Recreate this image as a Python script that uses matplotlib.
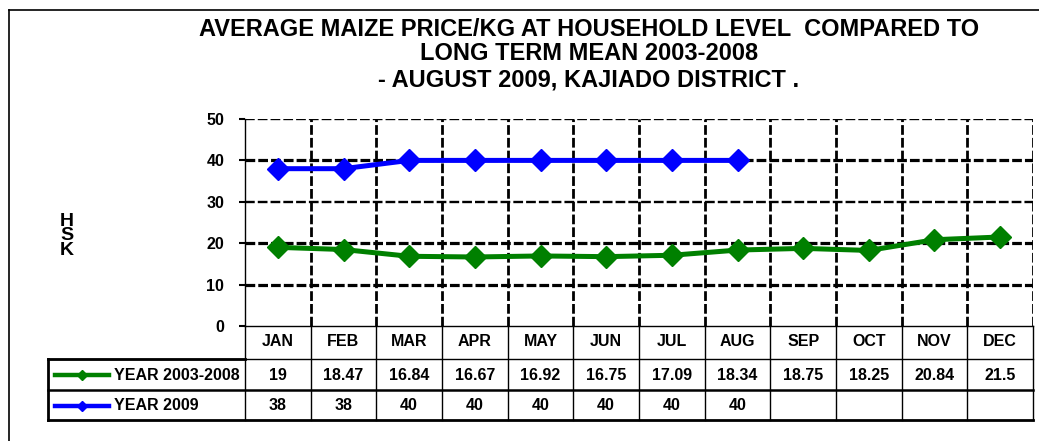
import matplotlib.pyplot as plt
from matplotlib.lines import Line2D
import numpy as np

plt.rcParams['font.family'] = ['Liberation Sans', 'DejaVu Sans']
plt.rcParams['font.weight'] = 'bold'
plt.rcParams['lines.scale_dashes'] = False

months = ['JAN', 'FEB', 'MAR', 'APR', 'MAY', 'JUN',
          'JUL', 'AUG', 'SEP', 'OCT', 'NOV', 'DEC']
mean_0308 = [19, 18.47, 16.84, 16.67, 16.92, 16.75, 17.09, 18.34, 18.75, 18.25, 20.84, 21.5]
year_2009 = [38, 38, 40, 40, 40, 40, 40, 40]
series_names = ['YEAR 2003-2008', 'YEAR 2009']
series_colors = ['#008000', '#0000ff']

W, H = 1039, 441
fig = plt.figure(figsize=(W / 100, H / 100), dpi=100)

def px(x0, y0, x1, y1):
    # pixel box (top-left origin) -> figure fraction rect
    return [x0 / W, 1 - y1 / H, (x1 - x0) / W, (y1 - y0) / H]

ax = fig.add_axes(px(245, 119, 1033, 326))
ax.set_xlim(-0.5, 11.5)
ax.set_ylim(0, 50)

# dashed grid
dash = (0, (7, 2.2))
for yv, lw in zip([10, 20, 30, 40, 50], [2.3, 2.3, 1.7, 2.3, 1.7]):
    ax.axhline(yv, color='black', lw=lw, ls=dash, zorder=1)
for k in range(12):
    ax.axvline(k + 0.5, color='black', lw=2.0, ls=dash, zorder=1)

x = np.arange(len(months))
ax.plot(x, mean_0308, color=series_colors[0], lw=3.6, marker='D', ms=11.5, zorder=3)
ax.plot(x[:len(year_2009)], year_2009, color=series_colors[1], lw=3.6, marker='D', ms=11.5, zorder=3)

for s in ['top', 'right']:
    ax.spines[s].set_visible(False)
ax.spines['left'].set_linewidth(1.0)
ax.spines['bottom'].set_linewidth(1.0)
ax.set_xticks([])
ax.set_yticks([0, 10, 20, 30, 40, 50])
ax.tick_params(axis='y', direction='out', length=4, width=1.5, pad=11, labelsize=11.5)
for t in ax.get_yticklabels():
    t.set_fontweight('bold')

# data table below the plot
tr = ax.get_xaxis_transform()
def f(p):
    return (326 - p) / 207.0

y_head, y_r1, y_r2 = f(342), f(375), f(405.5)
b_head, b_r1, b_r2 = f(359), f(390), f(420)
x_leg = -3.5

def hline(y, x0, x1, lw):
    ax.add_line(Line2D([x0, x1], [y, y], transform=tr, color='black', lw=lw, clip_on=False))

def vline(xv, y0, y1, lw):
    ax.add_line(Line2D([xv, xv], [y0, y1], transform=tr, color='black', lw=lw, clip_on=False))

hline(b_head, x_leg, 11.5, 1.0)
hline(b_head, x_leg, -0.5, 2.0)
hline(b_r1, x_leg, 11.5, 1.8)
hline(b_r2, x_leg, 11.5, 2.0)
vline(x_leg, b_head, b_r2, 2.0)
for k in range(13):
    vline(k - 0.5, 0, b_r2, 1.0)

for i, m in enumerate(months):
    ax.text(i, y_head, m, transform=tr, ha='center', va='center', fontsize=11.5, fontweight='bold')
    ax.text(i, y_r1, '{:g}'.format(mean_0308[i]), transform=tr, ha='center', va='center',
            fontsize=11.5, fontweight='bold')
for i, v in enumerate(year_2009):
    ax.text(i, y_r2, '{:g}'.format(v), transform=tr, ha='center', va='center',
            fontsize=11.5, fontweight='bold')

# legend keys in table
for yy, name, c in zip([y_r1, y_r2], series_names, series_colors):
    ax.add_line(Line2D([-3.393, -2.571], [yy, yy], transform=tr, color=c, lw=3.2, clip_on=False))
    ax.add_line(Line2D([-2.982], [yy], transform=tr, color=c, marker='D', ms=5.5, clip_on=False))
    ax.text(-2.495, yy, name, transform=tr, ha='left', va='center', fontsize=11.5, fontweight='bold')

# axis title
fig.text(67 / W, 1 - 236 / H, 'H\nS\nK', ha='center', va='center', fontsize=14,
         fontweight='bold', linespacing=0.8)

# chart title
titles = ['AVERAGE MAIZE PRICE/KG AT HOUSEHOLD LEVEL  COMPARED TO',
          'LONG TERM MEAN 2003-2008',
          '- AUGUST 2009, KAJIADO DISTRICT .']
for t, yy in zip(titles, [30, 53, 80]):
    fig.text(589 / W, 1 - yy / H, t, ha='center', va='center', fontsize=17, fontweight='bold')

# outer frame
fig.add_artist(Line2D([9 / W, 1], [1 - 10 / H, 1 - 10 / H], color='black', lw=1.2))
fig.add_artist(Line2D([9 / W, 9 / W], [0, 1 - 10 / H], color='black', lw=1.2))

fig.savefig('out.png', dpi=100)
